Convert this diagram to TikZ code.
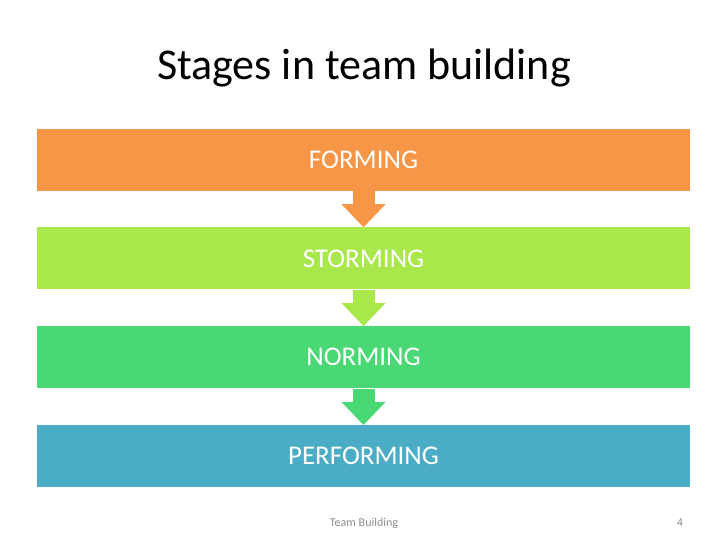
\documentclass[tikz,border=0pt]{standalone}
\usepackage{fontspec}
\setmainfont{Carlito}
\usetikzlibrary{positioning,arrows.meta}

\definecolor{formcol}{HTML}{F79646}
\definecolor{stormcol}{HTML}{A9E84B}
\definecolor{normcol}{HTML}{4AD874}
\definecolor{perfcol}{HTML}{4BACC6}
\definecolor{footcol}{HTML}{8C8C8C}

\begin{document}
\begin{tikzpicture}
[x=1pt, y=1pt, node distance = 36.5pt,
stage/.style={minimum width=653pt, minimum height=62pt, inner sep=0pt, text=white, font=\fontsize{27}{32}\selectfont},
flow/.style={line width=22pt, -{Triangle[width=44pt,length=23pt,line width=0pt]}}]

\useasboundingbox (0,0) rectangle (728,-546);

\node (title)[anchor=base, font=\fontsize{44}{53}\selectfont] at (364,-79) {Stages in team building};

\node (s1)[stage, fill=formcol] at (363.5,-159.5) {FORMING};
\node (s2)[stage, fill=stormcol, below=of s1] {STORMING};
\node (s3)[stage, fill=normcol, below=of s2] {NORMING};
\node (s4)[stage, fill=perfcol, below=of s3] {PERFORMING};

% arrows between the stages
\draw[flow, formcol] (s1) -- (s2);
\draw[flow, stormcol] (s2) -- (s3);
\draw[flow, normcol] (s3) -- (s4);

\node (foot)[anchor=base, text=footcol, font=\fontsize{12}{14}\selectfont] at (364,-526) {Team Building};
\node (page)[anchor=base, text=footcol, font=\fontsize{12}{14}\selectfont] at (680,-526) {4};
\end{tikzpicture}
\end{document}
